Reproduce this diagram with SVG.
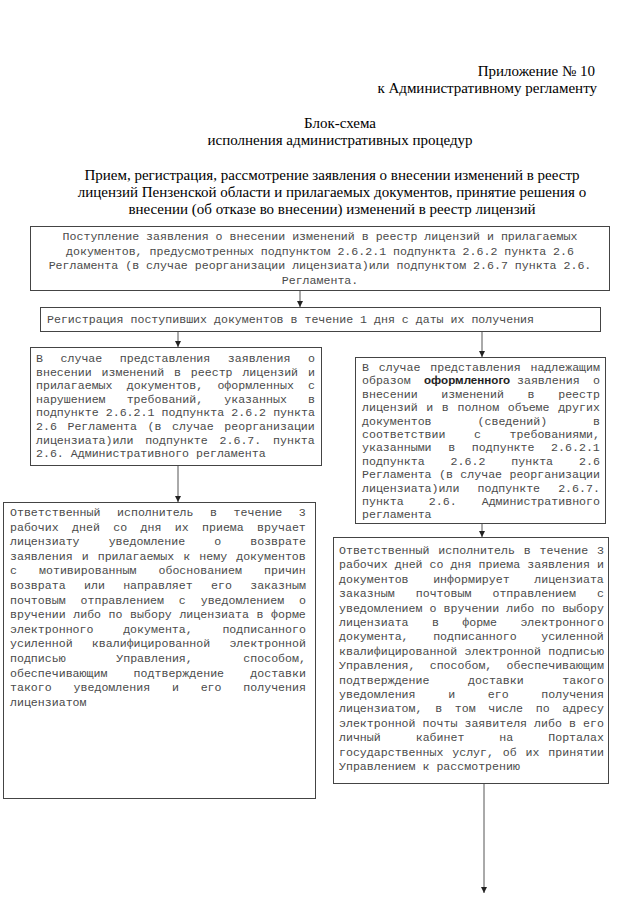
<svg xmlns="http://www.w3.org/2000/svg" width="640" height="905" viewBox="0 0 640 905">
<defs>
<marker id="arr" markerUnits="userSpaceOnUse" markerWidth="7" markerHeight="7" refX="6" refY="3" orient="auto">
<path d="M0,0 L6,3 L0,6 z" fill="#222"/>
</marker>
<style>
.s{font-family:"Liberation Serif","Times New Roman",serif;font-size:15px;fill:#000}
.m{font-family:"Liberation Mono","Courier New",monospace;font-size:11.6px;fill:#4a4a4a}
.b{font-family:"Liberation Sans",Arial,sans-serif;font-size:11.6px;font-weight:bold;fill:#222}
.box{fill:#fff;stroke:#444;stroke-width:1}
.conn line{stroke:#555;stroke-width:1;marker-end:url(#arr)}
</style>
</defs>
<rect width="640" height="905" fill="#fff"/>
<g id="header">
<text class="s" x="595" y="76" text-anchor="end">Приложение № 10</text>
<text class="s" x="597" y="93" text-anchor="end">к Административному регламенту</text>
<text class="s" x="340" y="128" text-anchor="middle">Блок-схема</text>
<text class="s" x="340" y="145" text-anchor="middle">исполнения административных процедур</text>
<text class="s" x="332" y="180" text-anchor="middle">Прием, регистрация, рассмотрение заявления о внесении изменений в реестр</text>
<text class="s" x="332" y="197" text-anchor="middle">лицензий Пензенской области и прилагаемых документов, принятие решения о</text>
<text class="s" x="332" y="214" text-anchor="middle">внесении (об отказе во внесении) изменений в реестр лицензий</text>
</g>
<g class="conn" id="connectors">
<line x1="300" y1="290" x2="300" y2="307"/>
<line x1="178" y1="331" x2="178" y2="347"/>
<line x1="482" y1="331" x2="482" y2="357"/>
<line x1="178" y1="465" x2="178" y2="502"/>
<line x1="482" y1="524" x2="482" y2="537"/>
<line x1="484" y1="783" x2="484" y2="893"/>
</g>
<g id="n1">
<rect class="box" x="30.5" y="226.5" width="579" height="64"/>
<text class="m" x="320" text-anchor="middle"><tspan x="320" y="240">Поступление заявления о внесении изменений в реестр лицензий и прилагаемых</tspan><tspan x="320" y="254.5">документов, предусмотренных подпунктом 2.6.2.1 подпункта 2.6.2 пункта 2.6</tspan><tspan x="320" y="269">Регламента (в случае реорганизации лицензиата)или подпунктом 2.6.7 пункта 2.6.</tspan><tspan x="320" y="283.5">Регламента.</tspan></text>
</g>
<g id="n2">
<rect class="box" x="40.5" y="307.5" width="560" height="24"/>
<text class="m" x="47" y="323">Регистрация поступивших документов в течение 1 дня с даты их получения</text>
</g>
<g id="n3">
<rect class="box" x="30.5" y="347.5" width="291" height="118"/>
<text class="m" x="36" y="362" word-spacing="10.6">В случае представления заявления о</text>
<text class="m" x="36" y="375.6" word-spacing="2.9">внесении изменений в реестр лицензий и</text>
<text class="m" x="36" y="389.2" word-spacing="7.2">прилагаемых документов, оформленных с</text>
<text class="m" x="36" y="402.8" word-spacing="14.1">нарушением требований, указанных в</text>
<text class="m" x="36" y="416.4" word-spacing="0.15">подпункте 2.6.2.1 подпункта 2.6.2 пункта</text>
<text class="m" x="36" y="430" word-spacing="3.6">2.6 Регламента (в случае реорганизации</text>
<text class="m" x="36" y="443.6" word-spacing="4.8">лицензиата)или подпункте 2.6.7. пункта</text>
<text class="m" x="36" y="457.2">2.6. Административного регламента</text>
</g>
<g id="n4">
<rect class="box" x="355.5" y="357.5" width="250" height="166"/>
<text class="m" x="362" y="371" word-spacing="2.8">В случае представления надлежащим</text>
<text class="m" y="384.4"><tspan x="362">образом</tspan><tspan class="b" x="424">оформленного</tspan><tspan x="517">заявления</tspan><tspan x="593">о</tspan></text>
<text class="m" x="362" y="397.8" word-spacing="16.7">внесении изменений в реестр</text>
<text class="m" x="362" y="411.2" word-spacing="1.66">лицензий и в полном объеме других</text>
<text class="m" x="362" y="424.6" word-spacing="39">документов (сведений) в</text>
<text class="m" x="362" y="438" word-spacing="21.6">соответствии с требованиями,</text>
<text class="m" x="362" y="451.4" word-spacing="9.7">указанными в подпункте 2.6.2.1</text>
<text class="m" x="362" y="464.8" word-spacing="19">подпункта 2.6.2 пункта 2.6</text>
<text class="m" x="362" y="478.2" word-spacing="0.45">Регламента (в случае реорганизации</text>
<text class="m" x="362" y="491.6" word-spacing="11.1">лицензиата)или подпункте 2.6.7.</text>
<text class="m" x="362" y="505" word-spacing="18.1">пункта 2.6. Административного</text>
<text class="m" x="362" y="518.4">регламента</text>
</g>
<g id="n5">
<rect class="box" x="3.5" y="502.5" width="312" height="296"/>
<text class="m" x="10" y="516" word-spacing="9.6">Ответственный исполнитель в течение 3</text>
<text class="m" x="10" y="530.6" word-spacing="6.4">рабочих дней со дня их приема вручает</text>
<text class="m" x="10" y="545.2" word-spacing="22.1">лицензиату уведомление о возврате</text>
<text class="m" x="10" y="559.8" word-spacing="2.1">заявления и прилагаемых к нему документов</text>
<text class="m" x="10" y="574.4" word-spacing="15.1">с мотивированным обоснованием причин</text>
<text class="m" x="10" y="589" word-spacing="11.35">возврата или направляет его заказным</text>
<text class="m" x="10" y="603.6" word-spacing="7.9">почтовым отправлением с уведомлением о</text>
<text class="m" x="10" y="618.2" word-spacing="0.6">вручении либо по выбору лицензиата в форме</text>
<text class="m" x="10" y="632.8" word-spacing="22.7">электронного документа, подписанного</text>
<text class="m" x="10" y="647.4" word-spacing="12.3">усиленной квалифицированной электронной</text>
<text class="m" x="10" y="662" word-spacing="43.6">подписью Управления, способом,</text>
<text class="m" x="10" y="676.6" word-spacing="19.25">обеспечивающим подтверждение доставки</text>
<text class="m" x="10" y="691.2" word-spacing="14.85">такого уведомления и его получения</text>
<text class="m" x="10" y="705.8">лицензиатом</text>
</g>
<g id="n6">
<rect class="box" x="333.5" y="537.5" width="275" height="246"/>
<text class="m" x="339" y="554" word-spacing="1.9">Ответственный исполнитель в течение 3</text>
<text class="m" x="339" y="568.4" word-spacing="0.08">рабочих дней со дня приема заявления и</text>
<text class="m" x="339" y="582.8" word-spacing="17.6">документов информирует лицензиата</text>
<text class="m" x="339" y="597.2" word-spacing="14.1">заказным почтовым отправлением с</text>
<text class="m" x="339" y="611.6" word-spacing="0.1">уведомлением о вручении либо по выбору</text>
<text class="m" x="339" y="626" word-spacing="16.4">лицензиата в форме электронного</text>
<text class="m" x="339" y="640.4" word-spacing="17.6">документа, подписанного усиленной</text>
<text class="m" x="339" y="654.8" word-spacing="0.25">квалифицированной электронной подписью</text>
<text class="m" x="339" y="669.2" word-spacing="7.2">Управления, способом, обеспечивающим</text>
<text class="m" x="339" y="683.6" word-spacing="31.6">подтверждение доставки такого</text>
<text class="m" x="339" y="698" word-spacing="25.7">уведомления и его получения</text>
<text class="m" x="339" y="712.4" word-spacing="5.7">лицензиатом, в том числе по адресу</text>
<text class="m" x="339" y="726.8" word-spacing="0.1">электронной почты заявителя либо в его</text>
<text class="m" x="339" y="741.2" word-spacing="28">личный кабинет на Порталах</text>
<text class="m" x="339" y="755.6" word-spacing="1.9">государственных услуг, об их принятии</text>
<text class="m" x="339" y="770">Управлением к рассмотрению</text>
</g>
</svg>
